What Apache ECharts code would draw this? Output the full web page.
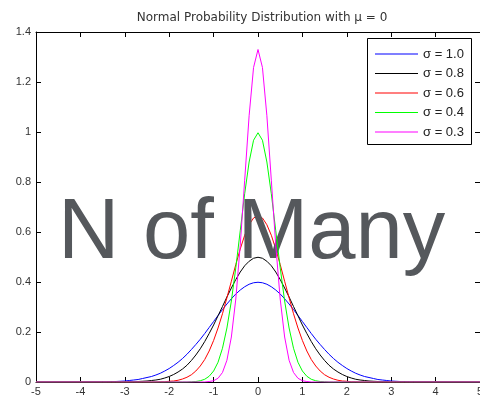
<!DOCTYPE html>
<html>
<head>
<meta charset="utf-8">
<script src="https://cdn.jsdelivr.net/npm/echarts@6/dist/echarts.min.js"></script>
<style>html,body{margin:0;padding:0;background:#fff;}#c{width:480px;height:398px;}</style>
</head>
<body>
<div id="c"></div>
<script>
var titleText = 'Normal Probability Distribution with \u03bc = 0';
var watermark = 'N of Many';
var seriesNames = ['\u03c3 = 1.0', '\u03c3 = 0.8', '\u03c3 = 0.6', '\u03c3 = 0.4', '\u03c3 = 0.3'];
var seriesColors = ['#0000ff', '#000000', '#ff0000', '#00ff00', '#ff00ff'];
var xTicks = [-5, -4, -3, -2, -1, 0, 1, 2, 3, 4, 5];
var yTicks = [0, 0.2, 0.4, 0.6, 0.8, 1, 1.2, 1.4];

var xs = [-5,
 -3.5,-3.4,-3.3,-3.2,-3.1,-3.0,-2.9,-2.8,-2.7,-2.6,-2.5,-2.4,-2.3,-2.2,-2.1,-2.0,-1.9,-1.8,-1.7,-1.6,-1.5,-1.4,-1.3,-1.2,-1.1,-1.0,-0.9,-0.8,-0.7,-0.6,-0.5,-0.4,-0.3,-0.2,-0.1,
 0,
 0.1,0.2,0.3,0.4,0.5,0.6,0.7,0.8,0.9,1.0,1.1,1.2,1.3,1.4,1.5,1.6,1.7,1.8,1.9,2.0,2.1,2.2,2.3,2.4,2.5,2.6,2.7,2.8,2.9,3.0,3.1,3.2,3.3,3.4,3.5,
 5];

var sigma10 = [0,
 0.001,0.001,0.002,0.002,0.003,0.004,0.006,0.008,0.010,0.014,0.018,0.022,0.028,0.035,0.044,0.054,0.066,0.079,0.094,0.111,0.130,0.150,0.171,0.194,0.218,0.242,0.266,0.290,0.312,0.333,0.352,0.368,0.381,0.391,0.397,
 0.399,
 0.397,0.391,0.381,0.368,0.352,0.333,0.312,0.290,0.266,0.242,0.218,0.194,0.171,0.150,0.130,0.111,0.094,0.079,0.066,0.054,0.044,0.035,0.028,0.022,0.018,0.014,0.010,0.008,0.006,0.004,0.003,0.002,0.002,0.001,0.001,
 0];

var sigma08 = [0,
 0,0,0,0,0,0,0.001,0.001,0.002,0.003,0.004,0.006,0.008,0.011,0.016,0.022,0.030,0.040,0.052,0.067,0.086,0.108,0.133,0.162,0.194,0.228,0.265,0.302,0.340,0.376,0.410,0.440,0.465,0.483,0.495,
 0.499,
 0.495,0.483,0.465,0.440,0.410,0.376,0.340,0.302,0.265,0.228,0.194,0.162,0.133,0.108,0.086,0.067,0.052,0.040,0.030,0.022,0.016,0.011,0.008,0.006,0.004,0.003,0.002,0.001,0.001,0,0,0,0,0,0,
 0];

var sigma06 = [0,
 0,0,0,0,0,0,0,0,0,0,0,0,0,0.001,0.001,0.003,0.004,0.007,0.012,0.019,0.029,0.044,0.064,0.090,0.124,0.166,0.216,0.273,0.337,0.403,0.470,0.532,0.587,0.629,0.656,
 0.665,
 0.656,0.629,0.587,0.532,0.470,0.403,0.337,0.273,0.216,0.166,0.124,0.090,0.064,0.044,0.029,0.019,0.012,0.007,0.004,0.003,0.001,0.001,0,0,0,0,0,0,0,0,0,0,0,0,0,
 0];

var sigma04 = [0,
 0,0,0,0,0,0,0,0,0,0,0,0,0,0,0,0,0,0,0,0,0.001,0.002,0.005,0.011,0.023,0.044,0.079,0.135,0.216,0.324,0.457,0.605,0.753,0.880,0.967,
 0.997,
 0.967,0.880,0.753,0.605,0.457,0.324,0.216,0.135,0.079,0.044,0.023,0.011,0.005,0.002,0.001,0,0,0,0,0,0,0,0,0,0,0,0,0,0,0,0,0,0,0,0,
 0];

var sigma03 = [0,
 0,0,0,0,0,0,0,0,0,0,0,0,0,0,0,0,0,0,0,0,0,0,0,0,0.002,0.005,0.015,0.038,0.087,0.180,0.332,0.547,0.807,1.065,1.258,
 1.330,
 1.258,1.065,0.807,0.547,0.332,0.180,0.087,0.038,0.015,0.005,0.002,0,0,0,0,0,0,0,0,0,0,0,0,0,0,0,0,0,0,0,0,0,0,0,0,
 0];

var allY = [sigma10, sigma08, sigma06, sigma04, sigma03];
var seriesZ = [2, 2, 2, 5, 5];

function pairs(ys) { return xs.map(function (x, i) { return [x, ys[i]]; }); }

var chart = echarts.init(document.getElementById('c'), null, {renderer: 'canvas'});
var FONT = 'Liberation Sans, Arial, sans-serif';

function axisBase() {
  return {
    type: 'value',
    axisLine: {show: true, onZero: false, lineStyle: {color: '#000', width: 1}},
    axisTick: {show: true, inside: true, length: 5, lineStyle: {color: '#000', width: 1}},
    splitLine: {show: false}
  };
}

var series = seriesNames.map(function (n, i) {
  return {
    name: n, type: 'line', data: pairs(allY[i]),
    showSymbol: false, symbol: 'none',
    lineStyle: {color: seriesColors[i], width: 1},
    itemStyle: {color: seriesColors[i]},
    z: seriesZ[i], animation: false
  };
});

chart.setOption({
  animation: false,
  backgroundColor: '#ffffff',
  title: {
    text: titleText, left: 257, top: 7, textAlign: 'center',
    textStyle: {fontFamily: 'DejaVu Sans, sans-serif', fontSize: 12, fontWeight: 'normal', color: '#333'}
  },
  grid: {left: 36, right: 0, top: 32, bottom: 16, containLabel: false, outerBoundsMode: 'none'},
  xAxis: [
    Object.assign(axisBase(), {
      position: 'bottom', min: xTicks[0], max: xTicks[xTicks.length - 1], interval: 1,
      axisLabel: {show: true, fontFamily: FONT, fontSize: 11, color: '#333', margin: 4}
    }),
    Object.assign(axisBase(), {
      position: 'top', min: xTicks[0], max: xTicks[xTicks.length - 1], interval: 1,
      axisLabel: {show: false}
    })
  ],
  yAxis: [
    Object.assign(axisBase(), {
      position: 'left', min: yTicks[0], max: yTicks[yTicks.length - 1], interval: 0.2,
      axisLabel: {show: true, fontFamily: FONT, fontSize: 11, color: '#333', margin: 5}
    }),
    Object.assign(axisBase(), {
      position: 'right', min: yTicks[0], max: yTicks[yTicks.length - 1], interval: 0.2,
      axisLabel: {show: false}
    })
  ],
  legend: {
    orient: 'vertical', left: 375, top: 47, padding: 0,
    itemWidth: 43, itemHeight: 1, itemGap: 5.5, icon: 'rect',
    data: seriesNames,
    textStyle: {fontFamily: FONT, fontSize: 13, color: '#222', lineHeight: 14},
    z: 7
  },
  graphic: [
    {
      type: 'rect', z: 6, silent: true,
      shape: {x: 367.5, y: 38.5, width: 104, height: 106},
      style: {fill: '#fff', stroke: '#000', lineWidth: 1}
    },
    {
      type: 'text', z: 3, silent: true,
      x: 58, y: 235,
      style: {text: watermark, font: '85px ' + FONT, fill: '#55585c', textAlign: 'left', textVerticalAlign: 'middle'}
    }
  ],
  series: series
});
</script>
</body>
</html>
